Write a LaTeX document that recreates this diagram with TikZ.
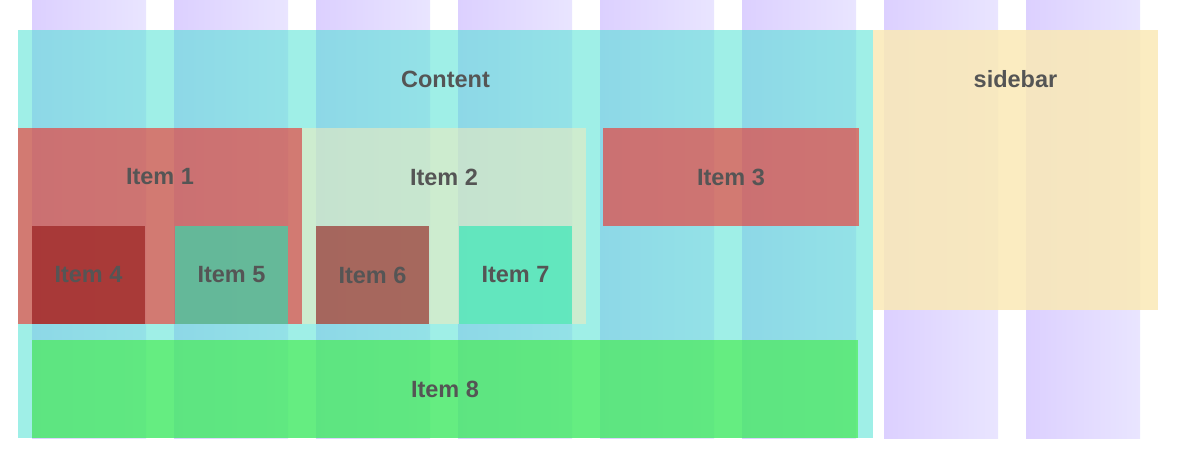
\documentclass[tikz,border=0pt]{standalone}
\usepackage{fontspec}
\setmainfont{Liberation Sans}
\definecolor{colL}{RGB}{220,208,255}
\definecolor{colR}{RGB}{233,229,255}
\definecolor{turq}{RGB}{64,224,208}
\definecolor{sideY}{RGB}{250,233,182}
\definecolor{itRed}{RGB}{245,44,36}
\definecolor{itBeige}{RGB}{235,234,191}
\definecolor{itDark}{RGB}{145,20,18}
\definecolor{itAqua}{RGB}{32,232,180}
\definecolor{itGreen}{RGB}{62,237,61}
\definecolor{txt}{RGB}{85,85,85}
\tikzset{
  box/.style={rectangle, inner sep=0pt, outer sep=0pt, draw=none, anchor=north west},
  colbox/.style={box, left color=colL, right color=colR, minimum width=114pt, minimum height=438pt},
  lbl/.style={text=txt, font=\bfseries\fontsize{23.5}{28}\selectfont, inner sep=0pt},
}
\begin{document}
\begin{tikzpicture}[x=1pt,y=-1pt]
\useasboundingbox (0,0) rectangle (1181,468);
% grid columns
\foreach \i in {0,...,7} {
  \node[colbox] (col\i) at ({32+142*\i},0) {};
}
% content and sidebar
\node[box, fill=turq, fill opacity=0.5, minimum width=855pt, minimum height=408pt] (content) at (18,30) {};
\node[box, fill=sideY, fill opacity=0.85, minimum width=285pt, minimum height=280pt] (sidebar) at (873,30) {};
% items
\node[box, fill=itRed, fill opacity=0.6, minimum width=284pt, minimum height=196pt] (item1) at (18,128) {};
\node[box, fill=itBeige, fill opacity=0.6, minimum width=284pt, minimum height=196pt] (item2) at (302,128) {};
\node[box, fill=itRed, fill opacity=0.6, minimum width=256pt, minimum height=98pt] (item3) at (603,128) {};
\node[box, fill=itDark, fill opacity=0.6, minimum width=113pt, minimum height=98pt] (item4) at (32,226) {};
\node[box, fill=itAqua, fill opacity=0.6, minimum width=113pt, minimum height=98pt] (item5) at (175,226) {};
\node[box, fill=itDark, fill opacity=0.6, minimum width=113pt, minimum height=98pt] (item6) at (316,226) {};
\node[box, fill=itAqua, fill opacity=0.6, minimum width=113pt, minimum height=98pt] (item7) at (459,226) {};
\node[box, fill=itGreen, fill opacity=0.6, minimum width=826pt, minimum height=98pt] (item8) at (32,340) {};
% labels
\node[lbl] (lcontent) at (445.5,79) {Content};
\node[lbl] (lsidebar) at (1015.5,79) {sidebar};
\node[lbl] (l1) at (160,177) {Item 1};
\node[lbl] (l2) at (444,177) {Item 2};
\node[lbl] (l3) at (731,177) {Item 3};
\node[lbl] (l4) at (item4.center) {Item 4};
\node[lbl] (l5) at (item5.center) {Item 5};
\node[lbl] (l6) at (item6.center) {Item 6};
\node[lbl] (l7) at (item7.center) {Item 7};
\node[lbl] (l8) at (item8.center) {Item 8};
\end{tikzpicture}
\end{document}
